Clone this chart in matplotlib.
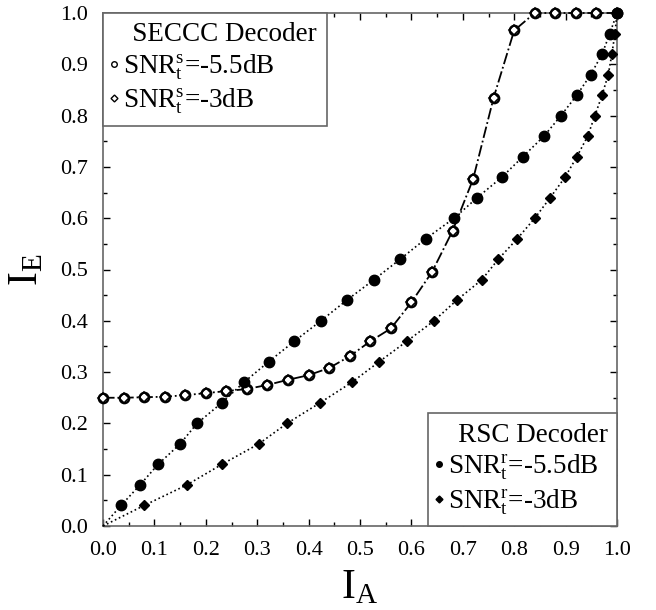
import matplotlib
matplotlib.use("Agg")
import matplotlib.pyplot as plt
from matplotlib.lines import Line2D
from matplotlib.ticker import MultipleLocator

plt.rcParams['font.family'] = ['Liberation Serif', 'DejaVu Serif']
plt.rcParams['mathtext.fontset'] = 'custom'
plt.rcParams['mathtext.rm'] = 'Liberation Serif'
plt.rcParams['mathtext.it'] = 'Liberation Serif:italic'
plt.rcParams['mathtext.bf'] = 'Liberation Serif:bold'

# SECCC decoder (both SNR curves coincide)
seccc_ia = [0.0, 0.04, 0.08, 0.12, 0.16, 0.20, 0.24, 0.28, 0.32, 0.36, 0.40, 0.44, 0.48,
            0.52, 0.56, 0.60, 0.64, 0.68, 0.72, 0.76, 0.80, 0.84, 0.88, 0.92, 0.96, 1.0]
seccc_ie_55 = [0.25, 0.25, 0.251, 0.252, 0.255, 0.259, 0.263, 0.267, 0.275, 0.285, 0.294, 0.308, 0.331,
               0.36, 0.385, 0.436, 0.495, 0.575, 0.676, 0.835, 0.966, 1.0, 1.0, 1.0, 1.0, 1.0]
seccc_ie_3 = [0.25, 0.25, 0.251, 0.252, 0.255, 0.259, 0.263, 0.267, 0.275, 0.285, 0.294, 0.308, 0.331,
              0.36, 0.385, 0.436, 0.495, 0.575, 0.676, 0.835, 0.966, 1.0, 1.0, 1.0, 1.0, 1.0]

# RSC decoder (inverted EXIT curves)
rsc_ie = [0.0, 0.04, 0.08, 0.12, 0.16, 0.20, 0.24, 0.28, 0.32, 0.36, 0.40, 0.44, 0.48, 0.52,
          0.56, 0.60, 0.64, 0.68, 0.72, 0.76, 0.80, 0.84, 0.88, 0.92, 0.96, 1.0]
rsc_ia_55 = [0.0, 0.035, 0.072, 0.107, 0.15, 0.183, 0.231, 0.274, 0.322, 0.372, 0.424, 0.474, 0.527, 0.578,
             0.628, 0.683, 0.728, 0.776, 0.817, 0.858, 0.891, 0.922, 0.949, 0.971, 0.986, 1.0]
rsc_ia_3 = [0.0, 0.08, 0.163, 0.231, 0.303, 0.358, 0.422, 0.484, 0.537, 0.591, 0.644, 0.688, 0.737, 0.769,
            0.806, 0.84, 0.87, 0.899, 0.922, 0.943, 0.957, 0.971, 0.983, 0.99, 0.996, 1.0]

xticks = [0.0, 0.1, 0.2, 0.3, 0.4, 0.5, 0.6, 0.7, 0.8, 0.9, 1.0]
tick_labels = ['0.0', '0.1', '0.2', '0.3', '0.4', '0.5', '0.6', '0.7', '0.8', '0.9', '1.0']

fig = plt.figure(figsize=(6.56, 6.10), dpi=100)
ax = fig.add_axes([103/656, 1 - 526/610, 514/656, 513/610])

# RSC curves
ax.plot(rsc_ia_3, rsc_ie, ls=':', color='k', lw=1.2, marker='D', ms=5.2, mfc='k', mec='k',
        markevery=list(range(1, len(rsc_ie))), clip_on=False, zorder=3)
ax.plot(rsc_ia_55, rsc_ie, ls=':', color='k', lw=1.2, marker='o', ms=7.5, mfc='k', mec='k',
        markevery=list(range(1, len(rsc_ie))), clip_on=False, zorder=4)
# SECCC curves
ax.plot(seccc_ia, seccc_ie_55, ls='-.', color='k', lw=1.3, marker='o', ms=6.8, mfc='white', mec='k',
        mew=1.6, clip_on=False, zorder=3)
ax.plot(seccc_ia, seccc_ie_3, ls='none', color='k', marker='D', ms=5.2, mfc='none', mec='k',
        mew=1.2, clip_on=False, zorder=3)

ax.set_xlim(0, 1)
ax.set_ylim(0, 1)
ax.set_xticks(xticks)
ax.set_xticklabels(tick_labels)
ax.set_yticks(xticks)
ax.set_yticklabels(tick_labels)
ax.xaxis.set_minor_locator(MultipleLocator(0.05))
ax.yaxis.set_minor_locator(MultipleLocator(0.05))
ax.tick_params(which='both', direction='in', top=True, right=True, colors='k')
ax.tick_params(which='major', length=5, width=1, labelsize=16)
ax.tick_params(which='minor', length=3, width=1)
ax.tick_params(axis='x', which='major', pad=11)
ax.tick_params(axis='y', which='major', pad=11)
for s in ax.spines.values():
    s.set_color('0.4')
    s.set_linewidth(1.2)

ax.set_xlabel(r'I$_\mathrm{A}$', fontsize=30, labelpad=6)
ax.set_ylabel(r'I$_\mathrm{E}$', fontsize=30, labelpad=10)

common = dict(borderaxespad=0, fontsize=19.5, title_fontsize=19.5, fancybox=False,
              edgecolor='0.4', framealpha=1, handlelength=0.1, handletextpad=0.28,
              borderpad=0.35, labelspacing=0.18, alignment='left')

h1 = [Line2D([], [], ls='none', marker='o', ms=4, mfc='white', mec='k', mew=1),
      Line2D([], [], ls='none', marker='D', ms=3.5, mfc='white', mec='k', mew=1)]
leg1 = ax.legend(h1, [r'SNR$_\mathrm{t}^\mathrm{s}$=-5.5dB', r'SNR$_\mathrm{t}^\mathrm{s}$=-3dB'],
                 title='   SECCC Decoder', loc='upper left', **common)
leg1.get_frame().set_linewidth(1.2)
ax.add_artist(leg1)

h2 = [Line2D([], [], ls='none', marker='o', ms=4, mfc='k', mec='k'),
      Line2D([], [], ls='none', marker='D', ms=3.5, mfc='k', mec='k')]
leg2 = ax.legend(h2, [r'SNR$_\mathrm{t}^\mathrm{r}$=-5.5dB', r'SNR$_\mathrm{t}^\mathrm{r}$=-3dB'],
                 title='   RSC Decoder', loc='lower right', **common)
leg2.get_frame().set_linewidth(1.2)

fig.savefig('out.png', dpi=100)
